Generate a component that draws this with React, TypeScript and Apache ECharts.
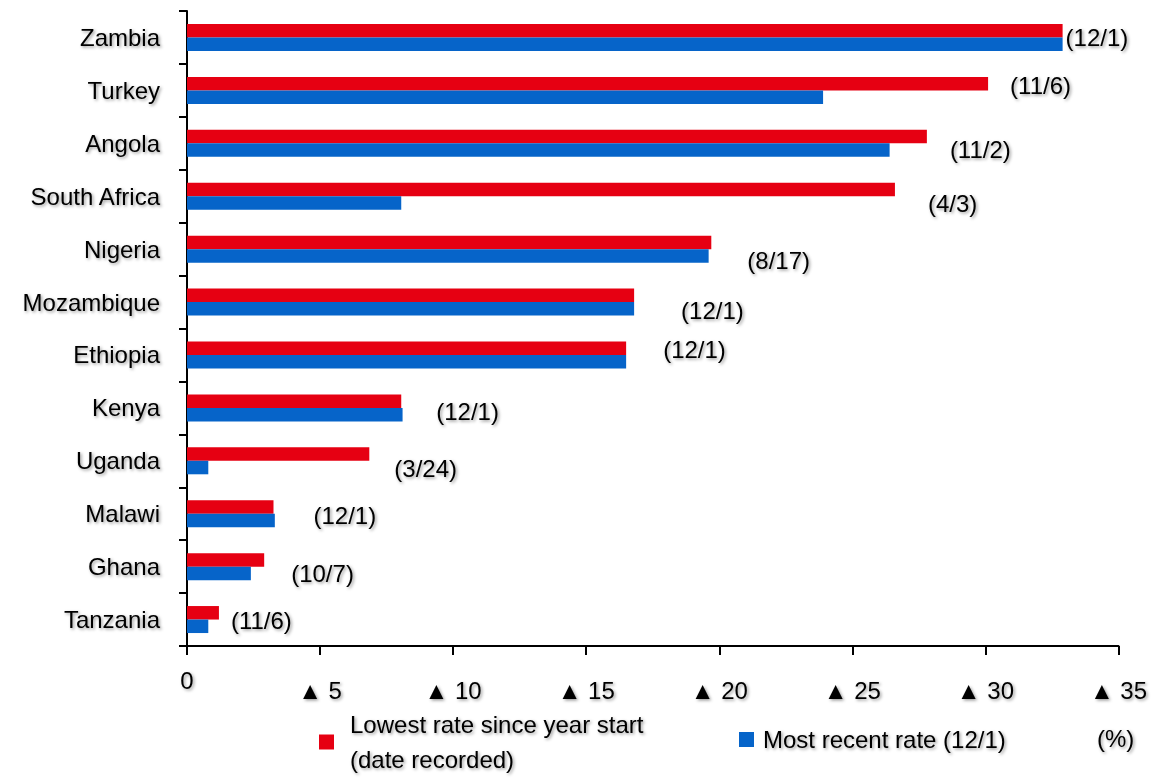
import React, { useEffect, useRef } from "react";
import * as echarts from "echarts";

const categories = [
  "Zambia", "Turkey", "Angola", "South Africa", "Nigeria", "Mozambique",
  "Ethiopia", "Kenya", "Uganda", "Malawi", "Ghana", "Tanzania",
];
const lowestRate = [32.9, 30.1, 27.8, 26.6, 19.7, 16.8, 16.5, 8.05, 6.85, 3.25, 2.9, 1.2];
const recentRate = [32.9, 23.9, 26.4, 8.05, 19.6, 16.8, 16.5, 8.1, 0.8, 3.3, 2.4, 0.8];
const dateRecorded = [
  "(12/1)", "(11/6)", "(11/2)", "(4/3)", "(8/17)", "(12/1)",
  "(12/1)", "(12/1)", "(3/24)", "(12/1)", "(10/7)", "(11/6)",
];
const seriesNames = ["Lowest rate since year start\n(date recorded)", "Most recent rate (12/1)"];
const unitLabel = "(%)";
const axisMax = 35;
const axisStep = 5;

// label placement (style only)
const labelOffsets = [
  [3, 7], [22, 2], [23, 13], [33, 14], [36, 18], [47, 15],
  [37, 1], [35, 10], [25, 14], [40, 9], [27, 14], [12, 8],
];

const FONT = "'Liberation Sans', Arial, sans-serif";
const RED = "#E60012";
const BLUE = "#0664C9";
const shadow = {
  textShadowColor: "rgba(0,0,0,0.4)",
  textShadowBlur: 3,
  textShadowOffsetX: 1.5,
  textShadowOffsetY: 1.5,
};

export default function App() {
  const ref = useRef<HTMLDivElement>(null);
  useEffect(() => {
    if (!ref.current) return;
    const chart = echarts.init(ref.current, undefined, { renderer: "svg" });
    const option: any = {
      animation: false,
      backgroundColor: "#ffffff",
      textStyle: { fontFamily: FONT, color: "#000" },
      grid: { left: 187, right: 41.5, top: 11, bottom: 132, containLabel: false },
      title: {
        text: unitLabel,
        left: 1097,
        top: 726,
        padding: 0,
        textStyle: { fontFamily: FONT, fontSize: 24, fontWeight: "normal", color: "#000", ...shadow },
      },
      legend: [
        {
          data: [seriesNames[0]],
          left: 319,
          top: 690,
          padding: 0,
          itemWidth: 15,
          itemHeight: 15,
          icon: "rect",
          textStyle: {
            fontFamily: FONT,
            fontSize: 24,
            lineHeight: 35,
            color: "#000",
            padding: [34, 0, 0, 11],
            ...shadow,
          },
        },
        {
          data: [seriesNames[1]],
          left: 739,
          top: 723,
          padding: 0,
          itemWidth: 15,
          itemHeight: 15,
          icon: "rect",
          textStyle: {
            fontFamily: FONT,
            fontSize: 24,
            lineHeight: 33,
            color: "#000",
            padding: [0, 0, 0, 4],
            ...shadow,
          },
        },
      ],
      xAxis: {
        type: "value",
        min: 0,
        max: axisMax,
        interval: axisStep,
        splitLine: { show: false },
        axisLine: { show: true, lineStyle: { color: "#000", width: 2 } },
        axisTick: { show: true, length: 9, lineStyle: { color: "#000", width: 2 } },
        axisLabel: {
          margin: 21,
          color: "#000",
          fontFamily: FONT,
          fontSize: 24,
          formatter: (v: number) => (v === 0 ? "{z|0}" : "{a|▲ " + v + "}"),
          rich: {
            z: { fontFamily: FONT, fontSize: 24, lineHeight: 26, color: "#000", ...shadow },
            a: { fontFamily: FONT, fontSize: 24, lineHeight: 26, color: "#000", padding: [20, 0, 0, 0], ...shadow },
          },
        },
      },
      yAxis: {
        type: "category",
        data: categories,
        inverse: true,
        axisLine: { show: true, lineStyle: { color: "#000", width: 2 } },
        axisTick: { show: true, length: 8, lineStyle: { color: "#000", width: 2 } },
        axisLabel: {
          margin: 27,
          color: "#000",
          fontFamily: FONT,
          fontSize: 24,
          ...shadow,
        },
      },
      series: [
        {
          name: seriesNames[0],
          type: "bar",
          barWidth: 13.5,
          barGap: "0%",
          itemStyle: { color: RED },
          data: lowestRate.map((v, i) => ({
            value: v,
            label: {
              show: true,
              position: "right",
              distance: 0,
              offset: labelOffsets[i],
              formatter: dateRecorded[i],
              fontFamily: FONT,
              fontSize: 24,
              color: "#000",
              ...shadow,
            },
          })),
        },
        {
          name: seriesNames[1],
          type: "bar",
          barWidth: 13.5,
          barGap: "0%",
          itemStyle: { color: BLUE },
          data: recentRate,
        },
      ],
    };
    chart.setOption(option);
    return () => chart.dispose();
  }, []);
  return (
    <div
      ref={ref}
      style={{ position: "absolute", left: 0, top: 0, width: 1160, height: 778 }}
    />
  );
}
